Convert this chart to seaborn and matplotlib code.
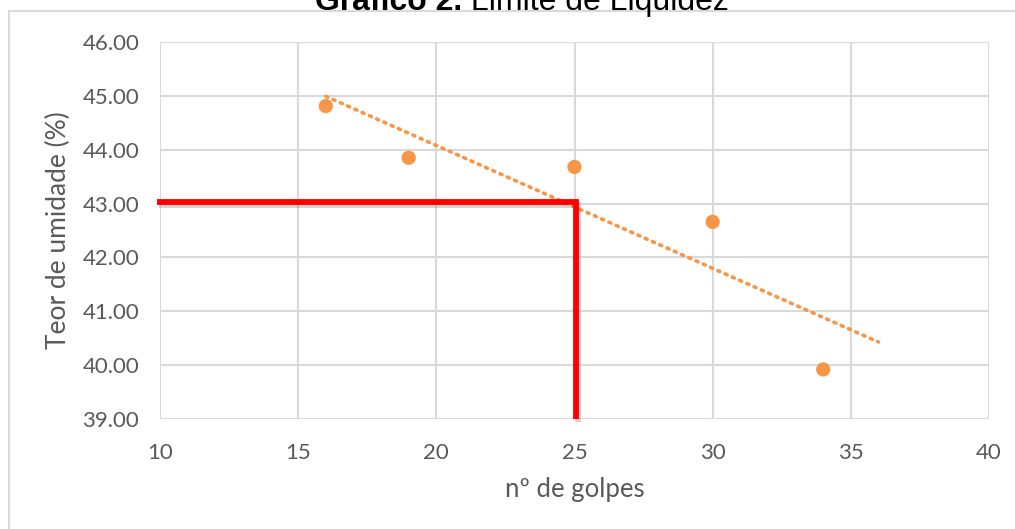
import numpy as np
import pandas as pd
import matplotlib
matplotlib.use("Agg")
import matplotlib.pyplot as plt
import matplotlib.patheffects as pe
from matplotlib.patches import Rectangle
import seaborn as sns

# ---- data ----
golpes = [16, 19, 25, 30, 34]
umidade = [44.81, 43.85, 43.68, 42.66, 39.92]
trend_x_range = [16, 36]
ll_golpes = 25
ll_umidade = 43.02
x_ticks = [10, 15, 20, 25, 30, 35, 40]
y_ticks = [39, 40, 41, 42, 43, 44, 45, 46]
title_bold = "Gráfico 2."
title_rest = " Limite de Liquidez"
xlabel = "nº de golpes"
ylabel = "Teor de umidade (%)"

sns.set_theme(style="white")
plt.rcParams['font.family'] = ['Lato', 'DejaVu Sans']

W, H = 1015, 529
fig = plt.figure(figsize=(W / 100, H / 100), dpi=100)
ax = fig.add_axes([160 / W, 1 - 419 / H, (989 - 160) / W, (419 - 42) / H])

orange = "#F79646"
grid_c = "#D9D9D9"
txt_c = "#595959"

df = pd.DataFrame({"golpes": golpes, "umidade": umidade})
coef = np.polyfit(df["golpes"], df["umidade"], 1)
tdf = pd.DataFrame({"x": trend_x_range, "y": np.polyval(coef, trend_x_range)})

sns.lineplot(data=tdf, x="x", y="y", ax=ax, color=orange, lw=2.6,
             linestyle=(0, (0.6, 1.6)), dash_capstyle="round", zorder=3)
sns.scatterplot(data=df, x="golpes", y="umidade", ax=ax, color=orange, s=105,
                edgecolor="none", zorder=4)

# red guide lines
ax.plot([9.9, ll_golpes + 0.06, ll_golpes + 0.06], [ll_umidade, ll_umidade, 39.0],
        color="#FF0000", lw=4.2, solid_joinstyle="miter", solid_capstyle="butt",
        clip_on=False, zorder=5,
        path_effects=[pe.SimpleLineShadow(offset=(1.5, -2.0), shadow_color="#808080", alpha=0.35),
                      pe.Normal()])

ax.set_xlim(10, 40)
ax.set_ylim(39, 46)
ax.set_xticks(x_ticks)
ax.set_yticks(y_ticks)
ax.set_yticklabels([f"{v:.2f}" for v in y_ticks])
ax.grid(True, color=grid_c, lw=1.5)
ax.set_axisbelow(True)
for s in ax.spines.values():
    s.set_visible(False)
ax.tick_params(axis="both", length=0, labelsize=16, colors=txt_c)
ax.tick_params(axis="x", pad=17)
ax.tick_params(axis="y", pad=15)
ax.set_xlabel(xlabel, fontsize=18.5, color=txt_c, labelpad=10)
ax.set_ylabel(ylabel, fontsize=19, color=txt_c, labelpad=8)

# chart border (cropped)
fig.patches.append(Rectangle((9, -20), 1200, H - 11 + 20, transform=None,
                             fill=False, edgecolor=grid_c, lw=1.5))

# title (partially cropped at top, as in the reference)
ty = (H - 10) / H
t1 = fig.text(315 / W, ty, title_bold, fontsize=23, fontweight="bold", color="black",
              va="baseline", ha="left", family=["Liberation Sans", "DejaVu Sans"])
fig.canvas.draw()
bb = t1.get_window_extent()
fig.text(bb.x1 / W, ty, title_rest, fontsize=23, color="black",
         va="baseline", ha="left", family=["Liberation Sans", "DejaVu Sans"])

fig.savefig("out.png", dpi=100, facecolor="white")
